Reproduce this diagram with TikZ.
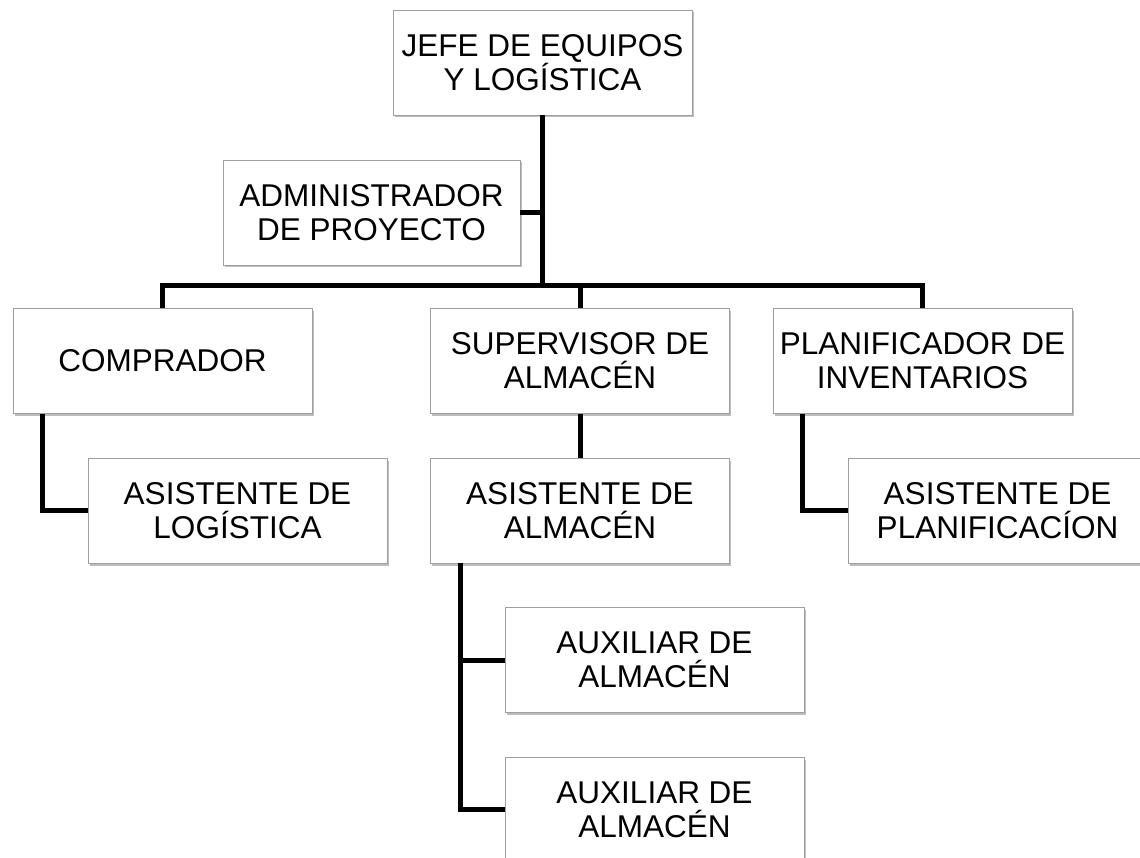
\documentclass[tikz,border=0pt]{standalone}
\usepackage{fontspec}
\setmainfont{Liberation Sans}
\usetikzlibrary{shadows}

\begin{document}
\begin{tikzpicture}
            [
                x=1pt, y=-1pt,
                every node/.style={
                    draw=gray!75, line width=0.8pt, fill=white,
                    minimum width=299pt, minimum height=105pt,
                    align=center, inner sep=0pt,
                    font=\fontsize{31.5}{34}\selectfont,
                    drop shadow={shadow xshift=1.5pt, shadow yshift=-2.5pt,
                        fill=gray!60, opacity=0.85}
                },
                conn/.style={black, line width=5pt, line join=miter}
            ]
            \useasboundingbox (0,0) rectangle (1140,858);
            \clip (0,0) rectangle (1140,858);

            % cajas
            \node (jefe) at (542.5,62.5) {JEFE DE EQUIPOS\\Y LOGÍSTICA};
            \node[minimum width=297pt] (admin) at (371.5,212.5)
                {ADMINISTRADOR\\DE PROYECTO};
            \node (comp) at (162.5,361) {COMPRADOR};
            \node (sup) at (580,361) {SUPERVISOR DE\\ALMACÉN};
            \node (plan) at (922.5,361) {PLANIFICADOR DE\\INVENTARIOS};
            \node (asislog) at (237.5,510.5) {ASISTENTE DE\\LOGÍSTICA};
            \node (asisalm) at (580,510.5) {ASISTENTE DE\\ALMACÉN};
            \node (asisplan) at (997.5,510.5) {ASISTENTE DE\\PLANIFICACÍON};
            \node (aux1) at (654.5,660) {AUXILIAR DE\\ALMACÉN};
            \node (aux2) at (654.5,809.5) {AUXILIAR DE\\ALMACÉN};

            % lineas
            \coordinate (bus) at (542.5,286);
            \coordinate (almbr) at ([xshift=30pt]asisalm.south west);
            \draw[conn] (jefe.south) -- (bus);
            \draw[conn] (admin.east) -- (admin.east -| jefe.south);
            \draw[conn] (comp.north) -- (comp.north |- bus)
                -- (plan.north |- bus) -- (plan.north);
            \draw[conn] (sup.north) -- (sup.north |- bus);
            \draw[conn] (sup.south) -- (asisalm.north);
            \draw[conn] ([xshift=30pt]comp.south west) |- (asislog.west);
            \draw[conn] ([xshift=30pt]plan.south west) |- (asisplan.west);
            \draw[conn] (almbr) |- (aux2.west);
            \draw[conn] (aux1.west) -- (aux1.west -| almbr);
\end{tikzpicture}
\end{document}
